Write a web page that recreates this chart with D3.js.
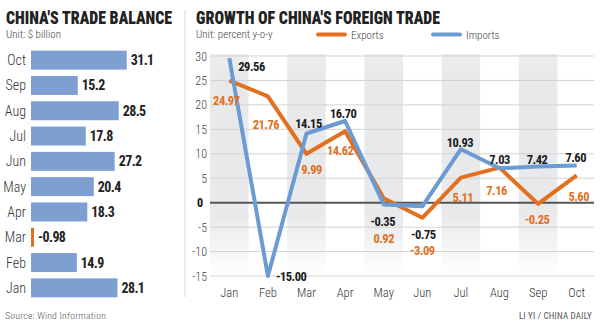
<!DOCTYPE html>
<html><head><meta charset="utf-8">
<script src="https://cdn.jsdelivr.net/npm/d3@7/dist/d3.min.js"></script>
<style>
html,body{margin:0;padding:0;background:#fff;}
svg{display:block;}
text{font-family:"Roboto Condensed","DejaVu Sans Condensed","Liberation Sans Narrow","Open Sans",sans-serif;}
</style></head>
<body>
<svg id="c" width="600" height="329"></svg>
<script>
// ---- data ----
const balanceMonths = ["Oct","Sep","Aug","Jul","Jun","May","Apr","Mar","Feb","Jan"];
const balanceValues = [31.1, 15.2, 28.5, 17.8, 27.2, 20.4, 18.3, -0.98, 14.9, 28.1];
const balanceLabels = ["31.1","15.2","28.5","17.8","27.2","20.4","18.3","-0.98","14.9","28.1"];

const months = ["Jan","Feb","Mar","Apr","May","Jun","Jul","Aug","Sep","Oct"];
const exportsGrowth = [24.97, 21.76, 9.99, 14.62, 0.92, -3.09, 5.11, 7.16, -0.25, 5.60];
const importsGrowth = [29.56, -15.00, 14.15, 16.70, -0.35, -0.75, 10.93, 7.03, 7.42, 7.60];
const yTicks = [30, 25, 20, 15, 10, 5, 0, -5, -10, -15];

// label nudges (relative to point)
const importNudge = [[9,8,"start"],[8,0,"start"],[2,-10,"middle"],[-2,-8,"middle"],[-1,17,"middle"],[1,28,"middle"],[-1,-7,"middle"],[0,-9,"middle"],[-1,-7,"middle"],[-1,-8,"middle"]];
const exportNudge = [[-3,20,"middle"],[-2,28,"middle"],[5,16,"middle"],[-5,19,"middle"],[0,40,"middle"],[0,33,"middle"],[2,20,"middle"],[-3,23,"middle"],[-1,16,"middle"],[2,21,"middle"]];

const BLUE = "#6a9cd3", ORANGE = "#e2701f", BAR = "#7e9fd1";
const svg = d3.select("#c");

// ---- left panel ----
svg.append("text").attr("x",6).attr("y",24).attr("font-size",19).attr("font-weight",900)
  .attr("textLength",166).attr("lengthAdjust","spacingAndGlyphs").attr("fill","#222")
  .text("CHINA'S TRADE BALANCE");
svg.append("text").attr("x",6).attr("y",38).attr("font-size",11).attr("font-weight",300).attr("fill","#444")
  .text("Unit: $ billion");

const xb = d3.scaleLinear().domain([0, 35]).range([31, 31 + 35*3.077]);
const yb = d3.scaleBand().domain(balanceMonths).range([47.5, 300.5]).paddingInner(0.25).paddingOuter(0.125);

const rows = svg.append("g").selectAll("g").data(balanceMonths).join("g");
rows.append("rect")
  .attr("x", xb(0))
  .attr("y", d => yb(d))
  .attr("height", yb.bandwidth())
  .attr("width", (d,i) => xb(Math.abs(balanceValues[i])) - xb(0))
  .attr("fill", (d,i) => balanceValues[i] < 0 ? ORANGE : BAR);
rows.append("text")
  .attr("x", 26).attr("y", d => yb(d) + yb.bandwidth()/2 + 5)
  .attr("text-anchor","end").attr("font-size",14).attr("font-weight",300).attr("fill","#333")
  .text(d => d);
rows.append("text")
  .attr("x", (d,i) => xb(Math.abs(balanceValues[i])) + 4)
  .attr("y", d => yb(d) + yb.bandwidth()/2 + 5)
  .attr("font-size",14).attr("font-weight",700).attr("fill","#222").attr("letter-spacing",-0.6)
  .text((d,i) => balanceLabels[i]);

svg.append("text").attr("x",5).attr("y",319).attr("font-size",9.8).attr("font-weight",300).attr("fill","#555")
  .attr("letter-spacing",0.2).text("Source: Wind Information");

svg.append("line").attr("x1",185).attr("x2",185).attr("y1",10).attr("y2",297)
  .attr("stroke","#d8d8d8").attr("stroke-width",1);

// ---- right panel ----
svg.append("text").attr("x",196).attr("y",24).attr("font-size",19).attr("font-weight",900)
  .attr("textLength",244).attr("lengthAdjust","spacingAndGlyphs").attr("fill","#222")
  .text("GROWTH OF CHINA'S FOREIGN TRADE");
svg.append("text").attr("x",196).attr("y",38).attr("font-size",11).attr("font-weight",300).attr("fill","#444")
  .text("Unit: percent y-o-y");

// legend
const legend = [["Exports",ORANGE,318],["Imports",BLUE,433]];
legend.forEach(([name,col,lx]) => {
  svg.append("line").attr("x1",lx).attr("x2",lx+27).attr("y1",34.5).attr("y2",34.5)
    .attr("stroke",col).attr("stroke-width",4).attr("stroke-linecap","round");
  svg.append("text").attr("x",lx+33).attr("y",38.5).attr("font-size",11).attr("font-weight",300).attr("fill","#444").text(name);
});

const xs = d3.scaleBand().domain(months).range([210, 596]);
const cx = m => xs(m) + xs.bandwidth()/2;
const ys = d3.scaleLinear().domain([-15, 30]).range([276, 56]);

const defs = svg.append("defs");
const grad = defs.append("linearGradient").attr("id","shade").attr("x1",0).attr("x2",0).attr("y1",0).attr("y2",1);
grad.append("stop").attr("offset","0%").attr("stop-color","#eeeef0");
grad.append("stop").attr("offset","8%").attr("stop-color","#e8e9eb");
grad.append("stop").attr("offset","72%").attr("stop-color","#e8e9eb");
grad.append("stop").attr("offset","100%").attr("stop-color","#ffffff");

svg.append("g").selectAll("rect").data(months.filter((m,i) => i % 2 === 0)).join("rect")
  .attr("x", d => xs(d)).attr("width", xs.bandwidth())
  .attr("y", ys(30) - 2).attr("height", ys(-15) - ys(30) + 2)
  .attr("fill","url(#shade)");

// grid
svg.append("g").selectAll("line").data(yTicks).join("line")
  .attr("x1",210).attr("x2",594).attr("y1",d=>ys(d)).attr("y2",d=>ys(d))
  .attr("stroke", d => d === 0 ? "#555" : "#d2d2d2")
  .attr("stroke-width", d => d === 0 ? 2 : 1);
svg.append("g").selectAll("text").data(yTicks).join("text")
  .attr("x", d => d === 0 ? 203 : 207).attr("y", d => ys(d) + 4.5)
  .attr("text-anchor","end").attr("font-size",12)
  .attr("font-weight", d => d === 0 ? 700 : 300).attr("fill", d => d === 0 ? "#111" : "#444")
  .text(d => d);

// x labels
svg.append("g").selectAll("text").data(months).join("text")
  .attr("x", d => cx(d)).attr("y", 297).attr("text-anchor","middle")
  .attr("font-size",12.5).attr("font-weight",300).attr("fill","#333").text(d => d);

const line = d3.line().x((d,i) => cx(months[i])).y(d => ys(d));
svg.append("path").datum(exportsGrowth).attr("d", line).attr("fill","none")
  .attr("stroke",ORANGE).attr("stroke-width",4).attr("stroke-linejoin","round");
svg.append("path").datum(importsGrowth).attr("d", line).attr("fill","none")
  .attr("stroke",BLUE).attr("stroke-width",4).attr("stroke-linejoin","round");

function labels(vals, nudge, col){
  svg.append("g").selectAll("text").data(vals).join("text")
    .attr("x", (d,i) => cx(months[i]) + nudge[i][0])
    .attr("y", (d,i) => ys(d) + nudge[i][1] + 4.5)
    .attr("text-anchor", (d,i) => nudge[i][2])
    .attr("font-size",12.5).attr("font-weight",700).attr("fill",col).attr("letter-spacing",-0.5)
    .text(d => d.toFixed(2));
}
labels(importsGrowth, importNudge, "#1a1a1a");
labels(exportsGrowth, exportNudge, ORANGE);

svg.append("text").attr("x",592).attr("y",319).attr("text-anchor","end")
  .attr("font-size",9).attr("fill","#555").attr("letter-spacing",0.2).text("LI YI / CHINA DAILY");
</script>
</body></html>
